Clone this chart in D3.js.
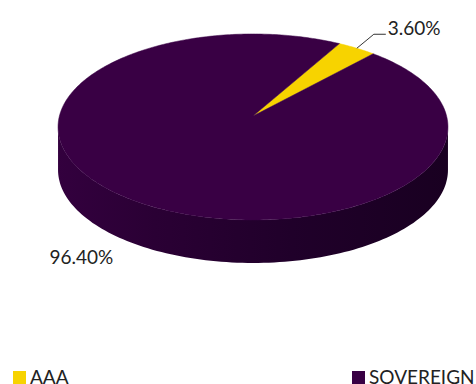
<!DOCTYPE html>
<html><head><meta charset="utf-8">
<script src="https://cdn.jsdelivr.net/npm/d3@7"></script>
<style>html,body{margin:0;padding:0;background:#fff;overflow:hidden}</style>
</head><body>
<svg id="c" width="476" height="384"></svg>
<script>
const categories = ["AAA", "SOVEREIGN"];
const values = [3.6, 96.4];
const labels = ["3.60%", "96.40%"];
const colors = ["#f7d300", "#390044"];

(function () {
const cx = 253, cy = 116;     // projected pie centre
const A = 193.6, B = 91.7, k = 0.118, depth = 43;
const startDeg = 29.5;
const font = "Lato, 'Open Sans', sans-serif";

const svg = d3.select("#c");
const defs = svg.append("defs");
const grad = defs.append("linearGradient").attr("id", "side").attr("x1", "0").attr("x2", "1").attr("y1", "0").attr("y2", "0");
[[0, "#33003e"], [0.25, "#2a0034"], [0.6, "#20002a"], [1, "#190021"]].forEach(([o, c]) =>
  grad.append("stop").attr("offset", o).attr("stop-color", c));

function proj(a, dy = 0) {
  const u = Math.sin(a), v = Math.cos(a), s = 1 / (1 + k * v);
  return [cx + A * u * s, cy - B * v * s + dy];
}
function rim(a0, a1, dy = 0, n = 120) {
  const pts = [];
  for (let i = 0; i <= n; i++) pts.push(proj(a0 + (a1 - a0) * i / n, dy));
  return pts;
}

const pie = d3.pie().sort(null).value(d => d)
  .startAngle(startDeg * Math.PI / 180)
  .endAngle(startDeg * Math.PI / 180 + 2 * Math.PI);
const arcs = pie(values);

const tSil = Math.asin(k);
const aR = Math.PI / 2 + tSil, aL = 3 * Math.PI / 2 - tSil;
const topRim = rim(aR, aL), botRim = rim(aL, aR, depth);
const line = d3.line();
svg.append("path")
  .attr("d", line(topRim.concat(botRim)) + "Z")
  .attr("fill", "url(#side)");

arcs.forEach((d, i) => {
  const pts = [[cx, cy]].concat(rim(d.startAngle, d.endAngle, 0, Math.max(8, Math.round((d.endAngle - d.startAngle) * 60))));
  svg.append("path").attr("d", line(pts) + "Z").attr("fill", colors[i])
    .attr("stroke", colors[i]).attr("stroke-width", 0.5).attr("stroke-linejoin", "round");
});

const aaa = arcs[0];
const mA = (aaa.startAngle + aaa.endAngle) / 2;
const p0 = proj(mA);
const p1 = [p0[0] + 17, p0[1] - 14], p2 = [p1[0] + 12, p1[1]];
svg.append("path").attr("d", line([p0, p1, p2])).attr("fill", "none")
  .attr("stroke", "#333").attr("stroke-width", 1);
svg.append("text").attr("x", p2[0] + 2).attr("y", p2[1] + 1)
  .attr("font-family", font).attr("font-size", 19).attr("fill", "#222")
  .text(labels[0]);

const sov = arcs[1];
const mS = (sov.startAngle + sov.endAngle) / 2;
const q0 = proj(mS, depth);
svg.append("text").attr("x", q0[0] - 14).attr("y", q0[1] + 23)
  .attr("font-family", font).attr("font-size", 19).attr("fill", "#222")
  .attr("text-anchor", "end").text(labels[1]);

const lx = [13, 352];
categories.forEach((c, i) => {
  const g = svg.append("g").attr("transform", `translate(${lx[i]},371)`);
  g.append("rect").attr("width", 13).attr("height", 13).attr("fill", colors[i]);
  g.append("text").attr("x", 17).attr("y", 12.5).attr("font-family", font)
    .attr("font-size", 19).attr("fill", "#222").text(c);
});
})();
</script>
</body></html>
